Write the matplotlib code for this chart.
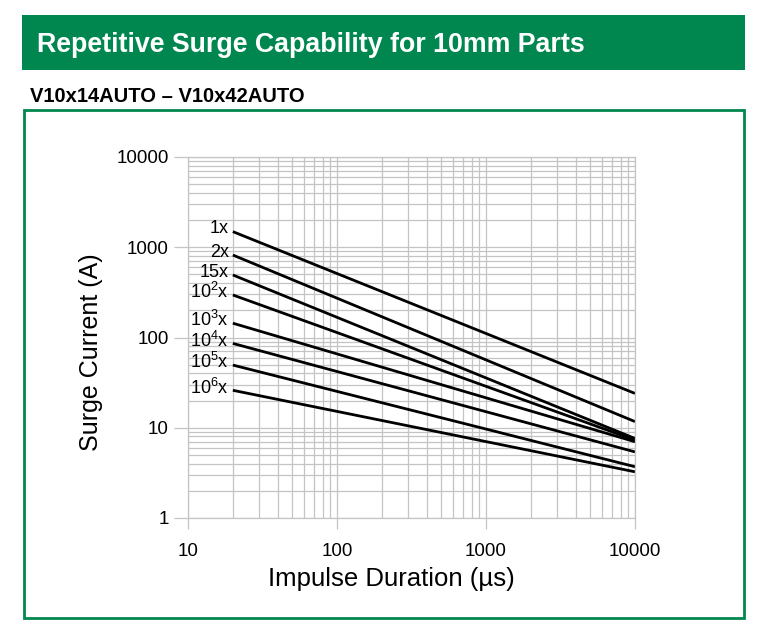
import matplotlib.pyplot as plt
from matplotlib.patches import Rectangle
from matplotlib.ticker import LogLocator, FixedLocator, NullFormatter

plt.rcParams['font.family'] = ['Liberation Sans', 'DejaVu Sans']
plt.rcParams['mathtext.fontset'] = 'custom'
plt.rcParams['mathtext.rm'] = 'Liberation Sans'
plt.rcParams['mathtext.it'] = 'Liberation Sans'

GREEN = "#00874f"
GRID = "#c4c4c4"

# pulse counts and (start, end) surge currents
labels = ["1x", "2x", "15x", "10$^2$x", "10$^3$x", "10$^4$x", "10$^5$x", "10$^6$x"]
t_start = 20
t_end = 10000
i_start = [1490, 820, 493, 296, 144, 86, 49.5, 26]
i_end = [24, 11.7, 7.6, 7.3, 7.0, 5.4, 3.7, 3.25]

x_ticks = [10, 100, 1000, 10000]
y_ticks = [1, 10, 100, 1000, 10000]

fig = plt.figure(figsize=(7.66, 6.33), dpi=100)

# green banner and frame
fig.patches.append(Rectangle((22 / 766, 1 - 70 / 633), 723 / 766, 55 / 633,
                             transform=fig.transFigure, facecolor=GREEN,
                             edgecolor="none"))
fig.patches.append(Rectangle((24 / 766, 1 - 618 / 633), 720 / 766, 508 / 633,
                             transform=fig.transFigure, facecolor="none",
                             edgecolor=GREEN, linewidth=2))
fig.text(37 / 766, 1 - 45 / 633, "Repetitive Surge Capability for 10mm Parts",
         color="white", fontsize=19.3, fontweight="bold", va="center")
fig.text(30 / 766, 1 - 97 / 633, "V10x14AUTO \u2013 V10x42AUTO",
         color="black", fontsize=14.5, fontweight="bold", va="center")

ax = fig.add_axes([188 / 766, 1 - 518 / 633, 447 / 766, 361 / 633])
ax.set_xscale("log")
ax.set_yscale("log")
ax.set_xlim(10, 10000)
ax.set_ylim(1, 10000)

ax.xaxis.set_major_locator(FixedLocator(x_ticks))
ax.yaxis.set_major_locator(FixedLocator(y_ticks))
ax.xaxis.set_minor_locator(LogLocator(base=10, subs=range(2, 10)))
ax.yaxis.set_minor_locator(LogLocator(base=10, subs=range(2, 10)))
ax.xaxis.set_minor_formatter(NullFormatter())
ax.yaxis.set_minor_formatter(NullFormatter())
ax.set_xticklabels([str(v) for v in x_ticks])
ax.set_yticklabels([str(v) for v in y_ticks])

ax.grid(which="both", color=GRID, linewidth=0.9)
ax.set_axisbelow(True)
for s in ax.spines.values():
    s.set_color(GRID)
    s.set_linewidth(0.9)
ax.tick_params(which="major", direction="out", color=GRID, width=0.9,
               labelsize=13.5, labelcolor="black")
ax.tick_params(axis="y", which="major", length=10, pad=4)
ax.tick_params(axis="x", which="major", length=8, pad=10)
ax.tick_params(which="minor", length=0)

for lab, a, b in zip(labels, i_start, i_end):
    ax.plot([t_start, t_end], [a, b], color="black", linewidth=2.0,
            solid_capstyle="butt")
    ax.annotate(lab, (t_start, a), xytext=(-3, 2), textcoords="offset points",
                ha="right", va="center", fontsize=13)

ax.set_xlabel("Impulse Duration (\u00b5s)", fontsize=18.5, labelpad=0)
ax.xaxis.set_label_coords(0.455, -0.135)
ax.set_ylabel("Surge Current (A)", fontsize=18)
ax.yaxis.set_label_coords(-0.19, 0.46)

fig.savefig("out.png", dpi=100)
